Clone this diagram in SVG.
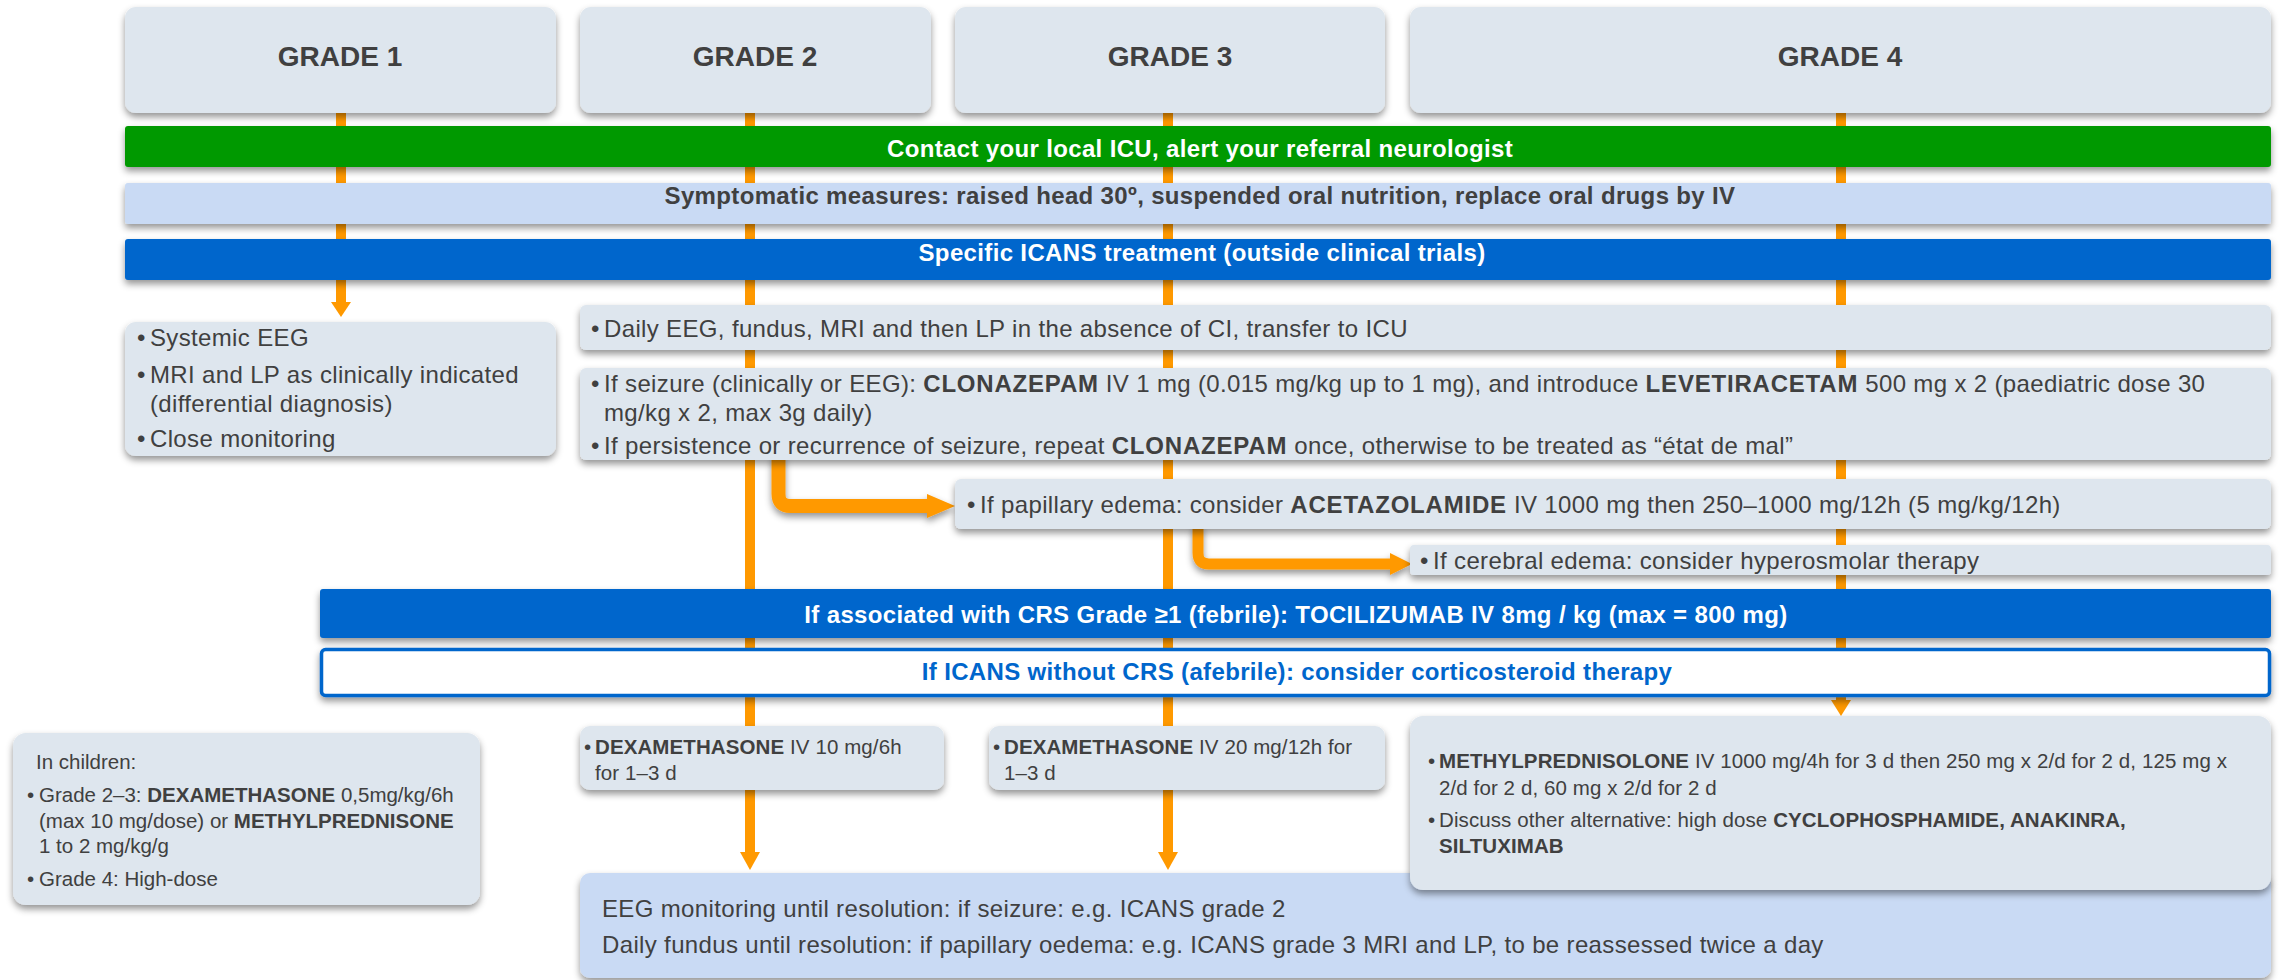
<svg xmlns="http://www.w3.org/2000/svg" width="2279" height="980" viewBox="0 0 2279 980">
<style>
.t{font-family:"Liberation Sans",Arial,sans-serif;fill:#404040}
.b{font-weight:bold}
.w{fill:#ffffff}
.m{text-anchor:middle}
.f28{font-size:28px}
.f24{font-size:24px;letter-spacing:0.35px}
.f24 tspan.b{letter-spacing:0.8px}
.f21{font-size:20.5px}
.f20{font-size:20.5px;letter-spacing:0.1px}
.box{fill:#dee6ee}
.lb{fill:#c9daf4}
.ln{stroke:#ff9900;stroke-width:10;fill:none}
.ah{fill:#ff9900}
</style>
<defs>
<filter id="sh" x="-5%" y="-30%" width="110%" height="170%">
<feDropShadow dx="0" dy="4" stdDeviation="3.5" flood-color="#000" flood-opacity="0.42"/>
</filter>
</defs>
<rect width="2279" height="980" fill="#ffffff"/>

<g id="connectors">
<line class="ln" x1="341" y1="110" x2="341" y2="303"/>
<polygon class="ah" points="331,302 351,302 341,317"/>
<line class="ln" x1="750" y1="110" x2="750" y2="853"/>
<polygon class="ah" points="740,852 760,852 750,870"/>
<line class="ln" x1="1168" y1="110" x2="1168" y2="853"/>
<polygon class="ah" points="1158,852 1178,852 1168,870"/>
<line class="ln" x1="1841" y1="110" x2="1841" y2="701"/>
<polygon class="ah" points="1831,700 1851,700 1841,716"/>
<g filter="url(#sh)">
<path d="M778.5 455 L778.5 494 Q778.5 506 790.5 506 L929 506" stroke="#ff9900" stroke-width="14" fill="none"/>
<polygon class="ah" points="927,494 955,506 927,518"/>
<path d="M1198 525 L1198 553 Q1198 564 1209 564 L1392 564" stroke="#ff9900" stroke-width="11" fill="none"/>
<polygon class="ah" points="1390,553 1412,564 1390,575"/>
</g>
</g>

<g id="grade1" filter="url(#sh)"><rect class="box" x="125" y="7" width="431" height="106" rx="11"/></g>
<text class="t b f28 m" x="340" y="66">GRADE 1</text>
<g id="grade2" filter="url(#sh)"><rect class="box" x="580" y="7" width="351" height="106" rx="11"/></g>
<text class="t b f28 m" x="755" y="66">GRADE 2</text>
<g id="grade3" filter="url(#sh)"><rect class="box" x="955" y="7" width="430" height="106" rx="11"/></g>
<text class="t b f28 m" x="1170" y="66">GRADE 3</text>
<g id="grade4" filter="url(#sh)"><rect class="box" x="1410" y="7" width="861" height="106" rx="11"/></g>
<text class="t b f28 m" x="1840" y="66">GRADE 4</text>

<g id="contact">
<rect x="125" y="126" width="2146" height="41" rx="3" fill="#009900" filter="url(#sh)"/>
<text class="t b f24 m w" x="1200" y="157">Contact your local ICU, alert your referral neurologist</text>
</g>
<g id="symptomatic">
<rect class="lb" x="125" y="183" width="2146" height="41" rx="3" filter="url(#sh)"/>
<text class="t b f24 m" x="1200" y="204">Symptomatic measures: raised head 30º, suspended oral nutrition, replace oral drugs by IV</text>
</g>
<g id="specific">
<rect x="125" y="239" width="2146" height="41" rx="3" fill="#0066cc" filter="url(#sh)"/>
<text class="t b f24 m w" x="1202" y="261">Specific ICANS treatment (outside clinical trials)</text>
</g>

<g id="g1-monitoring">
<rect class="box" x="125" y="322" width="431" height="134" rx="11" filter="url(#sh)"/>
<text class="t f24" x="137" y="346">•</text><text class="t f24" x="150" y="346">Systemic EEG</text>
<text class="t f24" x="137" y="383">•</text><text class="t f24" x="150" y="383">MRI and LP as clinically indicated</text>
<text class="t f24" x="150" y="412">(differential diagnosis)</text>
<text class="t f24" x="137" y="447">•</text><text class="t f24" x="150" y="447">Close monitoring</text>
</g>

<g id="daily-eeg">
<rect class="box" x="580" y="305" width="1691" height="45" rx="6" filter="url(#sh)"/>
<text class="t f24" x="591" y="337">•</text><text class="t f24" x="604" y="337">Daily EEG, fundus, MRI and then LP in the absence of CI, transfer to ICU</text>
</g>

<g id="seizure">
<rect class="box" x="580" y="368" width="1691" height="92" rx="6" filter="url(#sh)"/>
<text class="t f24" x="591" y="392">•</text><text class="t f24" x="604" y="392">If seizure (clinically or EEG): <tspan class="b">CLONAZEPAM</tspan> IV 1 mg (0.015 mg/kg up to 1 mg), and introduce <tspan class="b">LEVETIRACETAM</tspan> 500 mg x 2 (paediatric dose 30</text>
<text class="t f24" x="604" y="421">mg/kg x 2, max 3g daily)</text>
<text class="t f24" x="591" y="454">•</text><text class="t f24" x="604" y="454">If persistence or recurrence of seizure, repeat <tspan class="b">CLONAZEPAM</tspan> once, otherwise to be treated as “état de mal”</text>
</g>

<g id="papillary">
<rect class="box" x="955" y="479" width="1316" height="50" rx="6" filter="url(#sh)"/>
<text class="t f24" x="967" y="513">•</text><text class="t f24" x="980" y="513">If papillary edema: consider <tspan class="b">ACETAZOLAMIDE</tspan> IV 1000 mg then 250–1000 mg/12h (5 mg/kg/12h)</text>
</g>

<g id="cerebral">
<rect class="box" x="1410" y="545" width="861" height="30" rx="4" filter="url(#sh)"/>
<text class="t f24" x="1420" y="569">•</text><text class="t f24" x="1433" y="569">If cerebral edema: consider hyperosmolar therapy</text>
</g>

<g id="crs">
<rect x="320" y="589" width="1951" height="49" rx="3" fill="#0066cc" filter="url(#sh)"/>
<text class="t b f24 m w" x="1296" y="623">If associated with CRS Grade ≥1 (febrile): TOCILIZUMAB IV 8mg / kg (max = 800 mg)</text>
</g>
<g id="no-crs">
<rect x="321.5" y="649.5" width="1948" height="46" rx="4" fill="#ffffff" stroke="#0066cc" stroke-width="3.5" filter="url(#sh)"/>
<text class="t b f24 m" style="fill:#0066cc" x="1297" y="680">If ICANS without CRS (afebrile): consider corticosteroid therapy</text>
</g>

<g id="children">
<rect class="box" x="13" y="733" width="467" height="172" rx="13" filter="url(#sh)"/>
<text class="t f21" x="36" y="769">In children:</text>
<text class="t f21" x="27" y="802">•</text><text class="t f21" x="39" y="802">Grade 2–3: <tspan class="b">DEXAMETHASONE</tspan> 0,5mg/kg/6h</text>
<text class="t f21" x="39" y="828">(max 10 mg/dose) or <tspan class="b">METHYLPREDNISONE</tspan></text>
<text class="t f21" x="39" y="853">1 to 2 mg/kg/g</text>
<text class="t f21" x="27" y="886">•</text><text class="t f21" x="39" y="886">Grade 4: High-dose</text>
</g>

<g id="dexa-g2">
<rect class="box" x="580" y="726" width="364" height="64" rx="10" filter="url(#sh)"/>
<text class="t f20" x="584" y="754">•</text><text class="t f20" x="595" y="754"><tspan class="b">DEXAMETHASONE</tspan> IV 10 mg/6h</text>
<text class="t f20" x="595" y="780">for 1–3 d</text>
</g>
<g id="dexa-g3">
<rect class="box" x="989" y="726" width="396" height="64" rx="10" filter="url(#sh)"/>
<text class="t f20" x="993" y="754">•</text><text class="t f20" x="1004" y="754"><tspan class="b">DEXAMETHASONE</tspan> IV 20 mg/12h for</text>
<text class="t f20" x="1004" y="780">1–3 d</text>
</g>

<g id="eeg-monitoring">
<rect class="lb" x="580" y="873" width="1691" height="105" rx="10" filter="url(#sh)"/>
<text class="t f24" x="602" y="917">EEG monitoring until resolution: if seizure: e.g. ICANS grade 2</text>
<text class="t f24" x="602" y="953">Daily fundus until resolution: if papillary oedema: e.g. ICANS grade 3 MRI and LP, to be reassessed twice a day</text>
</g>

<g id="methylpred">
<rect class="box" x="1410" y="716" width="861" height="174" rx="13" filter="url(#sh)"/>
<text class="t f20" x="1428" y="768">•</text><text class="t f20" x="1439" y="768"><tspan class="b">METHYLPREDNISOLONE</tspan> IV 1000 mg/4h for 3 d then 250 mg x 2/d for 2 d, 125 mg x</text>
<text class="t f20" x="1439" y="795">2/d for 2 d, 60 mg x 2/d for 2 d</text>
<text class="t f20" x="1428" y="827">•</text><text class="t f20" x="1439" y="827">Discuss other alternative: high dose <tspan class="b">CYCLOPHOSPHAMIDE, ANAKINRA,</tspan></text>
<text class="t f20 b" x="1439" y="853">SILTUXIMAB</text>
</g>
</svg>
